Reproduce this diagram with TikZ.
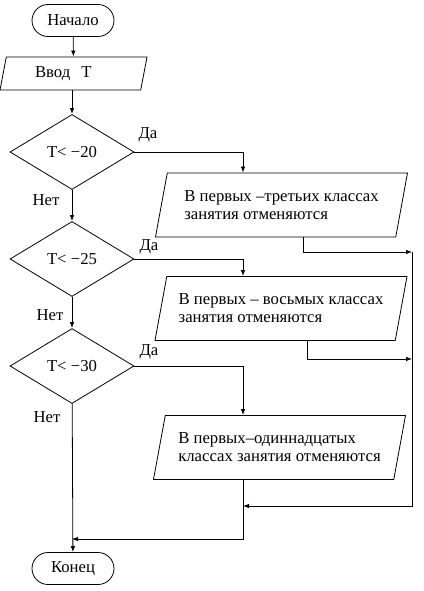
\documentclass[tikz,border=0pt]{standalone}
\usepackage{fontspec}
\setmainfont{Liberation Serif}
\usetikzlibrary{shapes.geometric,shapes.misc,arrows.meta}
\tikzset{
  term/.style={draw, rounded rectangle, minimum width=82pt, minimum height=32pt, inner sep=0pt},
  inbox/.style={draw, trapezium, trapezium left angle=66, trapezium right angle=114,
    trapezium stretches body, minimum width=147pt, minimum height=33pt, inner sep=0pt},
  outbox/.style={draw, trapezium, trapezium left angle=68, trapezium right angle=112,
    trapezium stretches body, minimum width=252pt, minimum height=64pt, inner sep=0pt, align=left},
  cond/.style={draw, diamond, minimum width=124pt, minimum height=75pt, inner sep=0pt},
  lbl/.style={inner sep=0pt},
}
\begin{document}
\begin{tikzpicture}[x=1pt, y=-1pt, line width=0.8pt, >={Latex[length=6pt,width=4.5pt]},
    font=\fontsize{16.7}{18}\selectfont]
    \useasboundingbox (0,0) rectangle (423,591);
    % Main column
    \node[term] (start) at (73,20.5) {Начало};
    \node[inbox, text width=77pt, align=left] (input) at (73.5,73.5) {Ввод~~Т};
    \node[cond] (d1) at (72,152) {Т< −20};
    \node[cond] (d2) at (72,259) {Т< −25};
    \node[cond] (d3) at (72,366) {Т< −30};
    \node[term] (stop) at (73,568.5) {Конец};

    % Output boxes
    \node[outbox] (b1) at (281.5,205) {В первых –третьих классах\\занятия отменяются};
    \node[outbox] (b2) at (281,308.5) {В первых – восьмых классах\\занятия отменяются};
    \node[outbox] (b3) at (279.5,447.5) {В первых–одиннадцатых\\классах занятия отменяются};

    % Branch labels
    \node[lbl] (yes1) at (148,135) {Да};
    \node[lbl] (yes2) at (149,247) {Да};
    \node[lbl] (yes3) at (149,352) {Да};
    \node[lbl] (no1) at (46,200) {Нет};
    \node[lbl] (no2) at (50,315) {Нет};
    \node[lbl] (no3) at (47,417) {Нет};

    % Helper points
    \coordinate (colA) at (243,0);
    \coordinate (r1) at (412,252);
    \coordinate (r2) at (412,359);
    \coordinate (rBot) at (412,506);
    \coordinate (bJoin) at (243,506);
    \coordinate (mJoin) at (72,539);

    % "No" path
    \draw[->] (start) -- (input);
    \draw[->] (input.south -| d1.north) -- (d1);
    \draw[->] (d1) -- (d2);
    \draw[->] (d2) -- (d3);
    \draw[->] (d3) -- (stop);

    % "Yes" paths
    \draw[->] (d1.east) -| (colA |- b1.north);
    \draw[->] (d2.east) -| (colA |- b2.north);
    \draw[->] (d3.east) -| (colA |- b3.north);

    % Back to the end
    \draw[->] (b1.south -| 303,0) |- (r1);
    \draw[->] (b2.south -| 307,0) |- (r2);
    \draw[->] (r1) -- (rBot) -- (bJoin);
    \draw[->] (colA |- b3.south) |- (mJoin);
\end{tikzpicture}
\end{document}
